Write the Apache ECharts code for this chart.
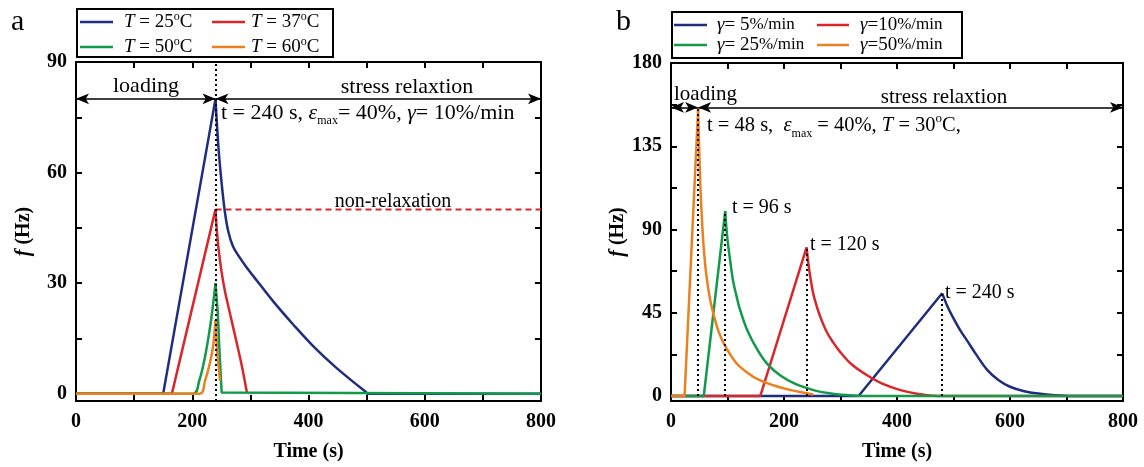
<!DOCTYPE html>
<html><head><meta charset="utf-8">
<script src="https://cdn.jsdelivr.net/npm/echarts@6/dist/echarts.min.js"></script>
<style>html,body{margin:0;padding:0;background:#fff}#c{width:1144px;height:467px}</style>
</head><body><div id="c"></div>
<script>
// ---------- Panel a : temperature series (time in s, f in Hz) ----------
// each curve = loading part (rise) + relaxation part (decay)
const aT25_rise_t = [0, 150, 240];
const aT25_rise_f = [0, 0, 80];
const aT25_decay_t = [240, 245, 250, 256, 262, 270, 280, 292, 311, 340, 374, 408, 448, 500];
const aT25_decay_f = [80, 67, 58, 49.5, 44, 40, 37.3, 34.6, 30.7, 24.9, 18.7, 12.9, 7.0, 0.3];
const aT25_tail_t = [500, 800];
const aT25_tail_f = [0, 0];
const aT37_rise_t = [0, 165, 240];
const aT37_rise_f = [0, 0, 50];
const aT37_decay_t = [240, 242, 245, 250, 256, 265, 275, 285, 294];
const aT37_decay_f = [50, 45, 39.6, 33.5, 28, 21.7, 14.8, 7.8, 0.3];
const aT50_rise_t = [0, 202, 212, 220, 226, 232, 236, 240];
const aT50_rise_f = [0, 0, 3.5, 8.5, 13.5, 19.5, 24.5, 30];
const aT50_decay_t = [240, 244, 247, 250.6, 800];
const aT50_decay_f = [30, 21.7, 11, 0.3, 0];
const aT60_rise_t = [0, 213, 222, 230.5, 236, 240];
const aT60_rise_f = [0, 0, 3.5, 8.4, 13, 20];
const aT60_decay_t = [240, 243, 247.7];
const aT60_decay_f = [20, 11, 3.5];
const aNonRelax_t = [240, 800];
const aNonRelax_f = [50, 50];
const aNames = ['T = 25°C', 'T = 37°C', 'T = 50°C', 'T = 60°C'];

// ---------- Panel b : strain-rate series ----------
const bG5_rise_t = [0, 332, 480];
const bG5_rise_f = [0, 0, 55.5];
const bG5_decay_t = [480, 490, 500, 512, 525, 540, 560, 580, 600, 625, 650, 680, 710, 800];
const bG5_decay_f = [55.5, 48, 42, 35.5, 29.5, 22.5, 14, 8.5, 5, 2.6, 1.3, 0.4, 0, 0];
const bG10_rise_t = [0, 158, 240];
const bG10_rise_f = [0, 0, 80.4];
const bG10_decay_t = [240, 243, 246.5, 252, 258, 264, 275, 287, 300, 320, 347, 375, 406, 440, 470, 800];
const bG10_decay_f = [80.4, 72, 64.4, 55, 48.5, 43, 35, 29, 23.6, 17, 11.2, 6.5, 3.2, 1, 0, 0];
const bG25_rise_t = [0, 58, 96];
const bG25_rise_f = [0, 0, 100];
const bG25_decay_t = [96, 98, 100.5, 104.6, 110, 116, 122, 135, 152, 170, 193, 220, 252, 280, 311, 340, 800];
const bG25_decay_f = [100, 91, 83, 73.5, 62, 54, 46.8, 35.5, 25.5, 17.5, 11.2, 6.5, 3.2, 1.5, 0.5, 0, 0];
const bG50_rise_t = [0, 24, 48];
const bG50_rise_f = [0, 0, 155];
const bG50_decay_t = [48, 49.5, 51.4, 53, 55, 57, 59, 63, 70, 81, 90, 98.7, 115, 134, 155, 181, 210, 240, 252];
const bG50_decay_f = [155, 138, 118, 106, 94, 84, 76, 64.4, 51, 37.8, 30.5, 25.5, 18, 12.9, 8.8, 5.8, 3.3, 1.5, 0.8];
const bNames = ['γ= 5%/min', 'γ=10%/min', 'γ= 25%/min', 'γ=50%/min'];
const bPeak_t = [48, 96, 240, 480];
const bPeak_f = [155, 100, 80.4, 55.5];

// ---------- tick values ----------
const xTicks = [0, 100, 200, 300, 400, 500, 600, 700, 800];
const xLabels = [0, 200, 400, 600, 800];
const aYTicks = [0, 15, 30, 45, 60, 75, 90];
const aYLabels = [0, 30, 60, 90];
const bYTicks = [0, 22.5, 45, 67.5, 90, 112.5, 135, 157.5, 180];
const bYLabels = [0, 45, 90, 135, 180];

const zip = (t, f) => t.map((v, i) => [v, f[i]]);
const C = { blue: '#1f2d80', red: '#d9262b', green: '#109a49', orange: '#ec801d' };
const SERIF = 'Liberation Serif, Times New Roman, serif';

function xAx(grid, pos, labels) {
  return {
    type: 'value', gridIndex: grid, position: pos, min: 0, max: 800,
    axisLine: { show: true, onZero: false, lineStyle: { color: '#000', width: 2 } },
    axisTick: { show: true, inside: true, length: 6, lineStyle: { color: '#000', width: 2 }, customValues: xTicks },
    axisLabel: { show: labels, customValues: xLabels, margin: 11, color: '#000', fontFamily: SERIF, fontWeight: 'bold', fontSize: 20 },
    splitLine: { show: false },
    name: labels ? 'Time (s)' : '', nameLocation: 'middle', nameGap: 41,
    nameTextStyle: { color: '#000', fontFamily: SERIF, fontWeight: 'bold', fontSize: 20 }
  };
}
function yAx(grid, pos, labels, min, max, ticks, labs) {
  return {
    type: 'value', gridIndex: grid, position: pos, min: min, max: max,
    axisLine: { show: true, onZero: false, lineStyle: { color: '#000', width: 2 } },
    axisTick: { show: true, inside: true, length: 6, lineStyle: { color: '#000', width: 2 }, customValues: ticks },
    axisLabel: { show: labels, customValues: labs, margin: 9, color: '#000', fontFamily: SERIF, fontWeight: 'bold', fontSize: 20 },
    splitLine: { show: false },
    name: labels ? '{i|f} (Hz)' : '', nameLocation: 'middle', nameGap: 42,
    nameTextStyle: { color: '#000', fontFamily: SERIF, fontWeight: 'bold', fontSize: 20,
      rich: { i: { fontStyle: 'italic', fontWeight: 'bold', fontFamily: SERIF, fontSize: 20 } } }
  };
}
function ser(name, xi, yi, data, color, extra) {
  return Object.assign({ name, type: 'line', xAxisIndex: xi, yAxisIndex: yi, data, showSymbol: false,
    symbol: 'none', lineStyle: { color, width: 2.5 }, itemStyle: { color }, animation: false, z: 3 }, extra || {});
}
const SM = { smooth: 0.35 };

const arrowStyle = { color: '#000', width: 1.5, type: 'solid' };
const arrowMark = (pairs) => ({
  silent: true, symbol: ['arrow', 'arrow'], symbolSize: [8, 13], label: { show: false },
  lineStyle: arrowStyle, animation: false,
  data: pairs.map(p => [{ coord: [p[0], p[2]] }, { coord: [p[1], p[2]] }])
});

function mkRich(fs) {
  return {
    i: { fontStyle: 'italic', fontFamily: SERIF, fontSize: fs, lineHeight: 28 },
    n: { fontFamily: SERIF, fontSize: fs, lineHeight: 28 },
    sub: { fontFamily: SERIF, fontSize: 12, verticalAlign: 'bottom', lineHeight: 28 },
    sup: { fontFamily: SERIF, fontSize: 13, verticalAlign: 'top', lineHeight: 28 }
  };
}
const richA = mkRich(22), richA2 = mkRich(20), richB = mkRich(21), richB2 = mkRich(20.5), richC = mkRich(20);
const lrich = {
  i: { fontStyle: 'italic', fontFamily: SERIF, fontSize: 19, lineHeight: 22 },
  n: { fontFamily: SERIF, fontSize: 19, lineHeight: 22 },
  s: { fontFamily: SERIF, fontSize: 17, lineHeight: 22 },
  sup: { fontFamily: SERIF, fontSize: 12, verticalAlign: 'top', lineHeight: 22 }
};
function txt(x, y, text, align, r) {
  return { type: 'text', x, y, z: 100, style: { text, rich: r, fontFamily: SERIF, fontSize: 20, fill: '#000',
    textAlign: align || 'left', textVerticalAlign: 'middle' } };
}
function legLine(x1, x2, y, color) {
  return { type: 'line', z: 100, shape: { x1, y1: y, x2, y2: y }, style: { stroke: color, lineWidth: 2.5 } };
}
const legFmtA = ['{i|T}{n| = 25}{sup|o}{n|C}', '{i|T}{n| = 37}{sup|o}{n|C}', '{i|T}{n| = 50}{sup|o}{n|C}', '{i|T}{n| = 60}{sup|o}{n|C}'];
const legFmtB = ['{i|γ}{n|= 5}{s|%/min}', '{i|γ}{n|=10}{s|%/min}', '{i|γ}{n|= 25}{s|%/min}', '{i|γ}{n|=50}{s|%/min}'];

const graphic = [
  { type: 'text', x: 11, y: 22, z: 100, style: { text: 'a', fontFamily: SERIF, fontSize: 30, fill: '#000', textVerticalAlign: 'middle' } },
  { type: 'text', x: 616, y: 22, z: 100, style: { text: 'b', fontFamily: SERIF, fontSize: 30, fill: '#000', textVerticalAlign: 'middle' } },
  // legend a
  { type: 'rect', z: 100, shape: { x: 77, y: 9, width: 256, height: 48 }, style: { fill: '#fff', stroke: '#000', lineWidth: 2 } },
  legLine(80, 113, 22, C.blue), txt(124, 22, legFmtA[0], 'left', lrich),
  legLine(212, 245, 22, C.red), txt(251, 22, legFmtA[1], 'left', lrich),
  legLine(80, 113, 47, C.green), txt(124, 47, legFmtA[2], 'left', lrich),
  legLine(212, 245, 47, C.orange), txt(251, 47, legFmtA[3], 'left', lrich),
  // legend b
  { type: 'rect', z: 100, shape: { x: 672, y: 12, width: 290, height: 46 }, style: { fill: '#fff', stroke: '#000', lineWidth: 2 } },
  legLine(674, 707, 25, C.blue), txt(717, 25, legFmtB[0], 'left', lrich),
  legLine(817, 849, 25, C.red), txt(860, 25, legFmtB[1], 'left', lrich),
  legLine(674, 707, 45, C.green), txt(717, 45, legFmtB[2], 'left', lrich),
  legLine(817, 849, 45, C.orange), txt(860, 45, legFmtB[3], 'left', lrich),
  // annotations a
  txt(146, 86, '{n|loading}', 'center', richA),
  txt(407, 87, '{n|stress relaxtion}', 'center', richA),
  txt(221, 113, '{n|t = 240 s, }{i|ε}{sub|max}{n|= 40%, }{i|γ}{n|= 10%/min}', 'left', richA),
  txt(393, 202, '{n|non-relaxation}', 'center', richA2),
  // annotations b
  txt(674, 94, '{n|loading}', 'left', richB),
  txt(944, 97, '{n|stress relaxtion}', 'center', richB),
  txt(707, 126, '{n|t = 48 s,  }{i|ε}{sub|max}{n| = 40%, }{i|T}{n| = 30}{sup|o}{n|C,}', 'left', richB2),
  txt(732, 208, '{n|t = 96 s}', 'left', richC),
  txt(810, 245, '{n|t = 120 s}', 'left', richC),
  txt(945, 293, '{n|t = 240 s}', 'left', richC)
];

const option = {
  backgroundColor: '#fff',
  animation: false,
  grid: [
    { left: 76, top: 62, width: 465, height: 343, containLabel: false },
    { left: 671, top: 63, width: 452, height: 343, containLabel: false }
  ],
  xAxis: [xAx(0, 'bottom', true), xAx(0, 'top', false), xAx(1, 'bottom', true), xAx(1, 'top', false)],
  yAxis: [
    yAx(0, 'left', true, -2, 90, aYTicks, aYLabels), yAx(0, 'right', false, -2, 90, aYTicks, aYLabels),
    yAx(1, 'left', true, -2.7, 180, bYTicks, bYLabels), yAx(1, 'right', false, -2.7, 180, bYTicks, bYLabels)
  ],
  series: [
    ser(aNames[0], 0, 0, zip(aT25_rise_t, aT25_rise_f), C.blue, {
      markLine: { silent: true, symbol: 'none', label: { show: false }, animation: false,
        lineStyle: { color: '#000', width: 2, type: [2, 3] }, data: [{ xAxis: 240 }] } }),
    ser(aNames[0], 0, 0, zip(aT25_decay_t, aT25_decay_f), C.blue, SM),
    ser(aNames[0], 0, 0, zip(aT25_tail_t, aT25_tail_f), C.blue),
    ser(aNames[1], 0, 0, zip(aT37_rise_t, aT37_rise_f), C.red),
    ser(aNames[1], 0, 0, zip(aT37_decay_t, aT37_decay_f), C.red, SM),
    ser('non-relaxation', 0, 0, zip(aNonRelax_t, aNonRelax_f), C.red, { lineStyle: { color: C.red, width: 2, type: [6, 4] } }),
    ser(aNames[2], 0, 0, zip(aT50_rise_t, aT50_rise_f), C.green, SM),
    ser(aNames[2], 0, 0, zip(aT50_decay_t, aT50_decay_f), C.green),
    ser(aNames[3], 0, 0, zip(aT60_rise_t, aT60_rise_f), C.orange, SM),
    ser(aNames[3], 0, 0, zip(aT60_decay_t, aT60_decay_f), C.orange, { markLine: arrowMark([[0, 240, 80], [240, 800, 80]]) }),
    ser(bNames[0], 2, 2, zip(bG5_rise_t, bG5_rise_f), C.blue),
    ser(bNames[0], 2, 2, zip(bG5_decay_t, bG5_decay_f), C.blue, SM),
    ser(bNames[1], 2, 2, zip(bG10_rise_t, bG10_rise_f), C.red),
    ser(bNames[1], 2, 2, zip(bG10_decay_t, bG10_decay_f), C.red, SM),
    ser(bNames[2], 2, 2, zip(bG25_rise_t, bG25_rise_f), C.green),
    ser(bNames[2], 2, 2, zip(bG25_decay_t, bG25_decay_f), C.green, SM),
    ser(bNames[3], 2, 2, zip(bG50_rise_t, bG50_rise_f), C.orange),
    ser(bNames[3], 2, 2, zip(bG50_decay_t, bG50_decay_f), C.orange, Object.assign({
      markLine: arrowMark([[0, 48, 156], [48, 800, 156]]) }, SM)),
    { type: 'line', xAxisIndex: 2, yAxisIndex: 2, data: [], z: 5, animation: false,
      markLine: { silent: true, symbol: 'none', label: { show: false }, animation: false,
        lineStyle: { color: '#000', width: 2, type: [2, 3] },
        data: bPeak_t.map((t, i) => [{ coord: [t, 0] }, { coord: [t, bPeak_f[i]] }]) } }
  ],
  graphic
};
const chart = echarts.init(document.getElementById('c'), null, { renderer: 'canvas' });
chart.setOption(option);
</script></body></html>
